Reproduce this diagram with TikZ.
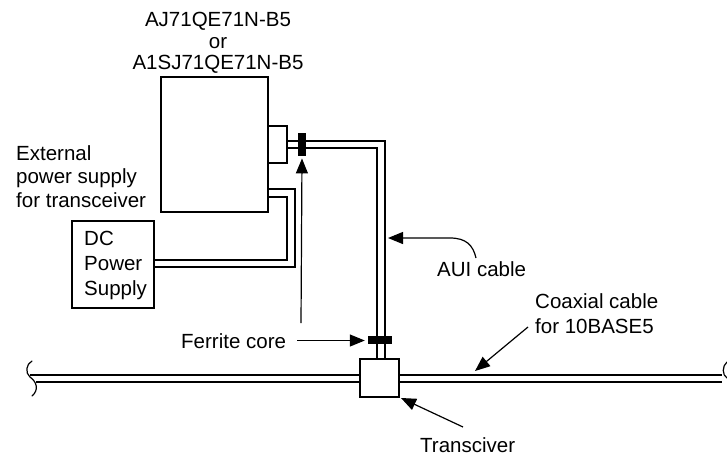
\documentclass[tikz,border=0pt]{standalone}
\usepackage{fontspec}
\setmainfont{Liberation Sans}
\usetikzlibrary{arrows.meta}
\tikzset{
 line/.style={draw=black,line width=1.2pt},
 box/.style={draw=black,line width=1.2pt,fill=white,minimum width=0pt,inner sep=0pt},
 lab/.style={font=\fontsize{20.5}{#1}\selectfont,align=left,inner sep=0pt},
 lab/.default=24,
 labc/.style={font=\fontsize{20.5}{#1}\selectfont,align=center,inner sep=0pt},
 core/.style={fill=black,draw=none,inner sep=0pt},
 pointer/.style={draw=black,line width=1.2pt,-{Triangle[length=15pt,width=12pt]}},
}
\begin{document}
\begin{tikzpicture}[x=1pt,y=-1pt]
\useasboundingbox (0,0) rectangle (727,456);
% coax
\coordinate (cl) at (30,375); \coordinate (cr) at (722,375);
\coordinate (dl) at (36,382); \coordinate (dr) at (722,382);
\node[box,minimum width=39pt,minimum height=38pt] (trans) at (379.5,378) {};
\draw[line] (cl) -- (trans.west |- cl) (trans.east |- cr) -- (cr);
\draw[line] (dl) -- (trans.west |- dl) (trans.east |- dr) -- (dr);
\draw[line,line cap=round] (32,361) .. controls (26,364) and (25,373) .. (30,377) .. controls (37,382) and (39,390) .. (32,396);
\draw[line,line cap=round] (727,362) .. controls (722,366) and (722,375) .. (727,378);
% main unit
\node[box,minimum width=107pt,minimum height=135pt] (unit) at (214.5,144.5) {};
\node[box,minimum width=19pt,minimum height=37pt] (port) at (277.5,144.5) {};
\node[box,minimum width=82pt,minimum height=87pt] (dc) at (113,264.5) {};
% AUI cable
\coordinate (a1) at (385,141); \coordinate (a2) at (377,148);
\draw[line] (port.east |- a1) -- (a1) -- (a1 |- trans.north);
\draw[line] (port.east |- a2) -- (a2) -- (a2 |- trans.north);
% power cable
\coordinate (p1) at (295,189); \coordinate (p2) at (287,197);
\coordinate (q1) at (295,267); \coordinate (q2) at (287,260);
\draw[line] (unit.east |- p1) -- (p1) -- (q1) -- (dc.east |- q1);
\draw[line] (unit.east |- p2) -- (p2) -- (q2) -- (dc.east |- q2);
% ferrite cores
\node[core,minimum width=8.5pt,minimum height=23.5pt] (f1) at (302,144.5) {};
\node[core,minimum width=24pt,minimum height=8pt] (f2) at (380,340) {};
% labels
\node[labc=21.5,anchor=north] (title) at (218,12) {AJ71QE71N-B5\\or\\A1SJ71QE71N-B5};
\node[lab=23.5,anchor=north west] (ext) at (16,145) {External\\power supply\\for transceiver};
\node[lab=25,anchor=north west] (dct) at (84,231) {DC\\Power\\Supply};
\node[lab,anchor=base west] (aui) at (437,276.5) {AUI cable};
\node[lab,anchor=base west] (fer) at (181,348) {Ferrite core};
\node[lab=25,anchor=north west] (coax) at (535,293) {Coaxial cable\\for 10BASE5};
\node[lab,anchor=base west] (tr) at (420,452) {Transciver};
% pointers
\coordinate (s1) at (301,323);
\draw[pointer,shorten >=2pt] (s1) -- (f1.south);
\coordinate (s5) at (297,340.5);
\draw[pointer,shorten >=3pt] (s5) -- (s5 -| f2.west);
\coordinate (s2) at (476,258);
\draw[pointer] (s2) .. controls (473,245) and (466,238) .. (450,238) -- (388,238);
\coordinate (s3) at (528,327);
\draw[pointer] (s3) -- (475,371);
\coordinate (s4) at (463,427);
\draw[pointer] (s4) -- (401,398);
\end{tikzpicture}
\end{document}
